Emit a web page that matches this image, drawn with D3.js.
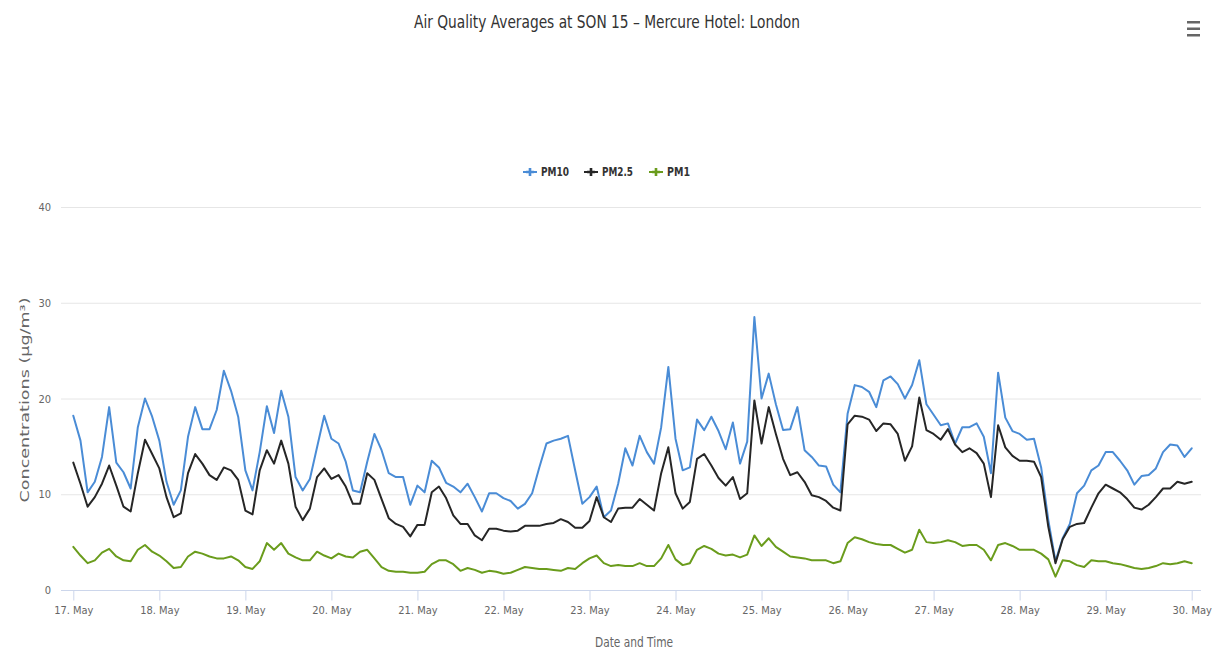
<!DOCTYPE html>
<html>
<head>
<meta charset="utf-8">
<script src="https://cdn.jsdelivr.net/npm/d3@7"></script>
<style>
  html, body { margin: 0; padding: 0; background: #ffffff; }
  svg { display: block; }
</style>
</head>
<body>
<svg id="chart" width="1214" height="653"></svg>
<script>
// ---------------- DATA ----------------
const chartTitle = "Air Quality Averages at SON 15 \u2013 Mercure Hotel: London";
const yAxisTitle = "Concentrations (\u03bcg/m\u00b3)";
const xAxisTitle = "Date and Time";
const seriesNames = ["PM10", "PM2.5", "PM1"];
const startTime = new Date(2021, 4, 17, 0, 0);   // 17 May, 00:00
const stepHours = 2;                              // readings every 2 hours
const yTicks = [0, 10, 20, 30, 40];
const xTickLabels = ["17. May","18. May","19. May","20. May","21. May","22. May","23. May",
                     "24. May","25. May","26. May","27. May","28. May","29. May","30. May"];

const pm10 = [
  18.2,15.6,10.2,11.3,13.9,19.1,13.3,12.3,10.6,17.0,20.0,18.1,15.6,11.3,8.9,10.4,16.0,19.1,16.8,16.8,18.8,22.9,20.8,18.1,12.5,10.4,
  14.4,19.2,16.4,20.8,18.1,11.8,10.4,11.6,14.9,18.2,15.8,15.3,13.4,10.4,10.2,13.4,16.3,14.6,12.2,11.8,11.8,8.9,10.9,10.2,13.5,12.8,
  11.2,10.8,10.2,11.1,9.7,8.2,10.1,10.1,9.6,9.3,8.5,9.0,10.1,12.8,15.3,15.6,15.8,16.1,12.5,9.0,9.7,10.8,7.6,8.3,11.1,14.8,
  13.0,16.1,14.4,13.2,17.0,23.3,15.8,12.5,12.8,17.8,16.7,18.1,16.6,14.7,17.5,13.2,15.5,28.5,20.0,22.6,19.4,16.7,16.8,19.1,14.6,13.9,13.0,
  12.9,11.0,10.2,18.4,21.4,21.2,20.7,19.1,21.9,22.3,21.5,20.0,21.4,24.0,19.4,18.3,17.2,17.4,15.3,17.0,17.0,17.4,16.0,12.2,22.7,18.0,
  16.6,16.3,15.7,15.8,12.8,7.3,3.0,5.4,6.9,10.1,10.9,12.5,13.0,14.4,14.4,13.5,12.5,11.0,11.9,12.0,12.7,14.4,15.2,15.1,13.9,14.8
];
const pm25 = [
  13.3,11.1,8.7,9.7,11.1,13.0,10.9,8.7,8.2,12.2,15.7,14.2,12.7,9.7,7.6,8.0,12.2,14.2,13.2,12.0,11.5,12.8,12.5,11.5,8.3,7.9,
  12.5,14.6,13.2,15.6,13.2,8.7,7.3,8.5,11.8,12.7,11.6,12.0,10.8,9.0,9.0,12.2,11.5,9.5,7.5,6.9,6.6,5.6,6.8,6.8,10.2,10.8,
  9.6,7.8,6.9,6.9,5.7,5.2,6.4,6.4,6.2,6.1,6.2,6.7,6.7,6.7,6.9,7.0,7.4,7.1,6.5,6.5,7.2,9.7,7.6,7.1,8.5,8.6,
  8.6,9.5,8.9,8.3,12.2,14.9,10.1,8.5,9.2,13.7,14.2,13.0,11.7,10.9,11.8,9.5,10.1,19.8,15.3,19.1,16.3,13.7,12.0,12.3,11.3,9.9,9.7,
  9.3,8.6,8.3,17.3,18.2,18.1,17.8,16.6,17.4,17.3,16.3,13.5,15.0,20.1,16.7,16.3,15.7,16.8,15.2,14.4,14.8,14.3,13.2,9.7,17.2,14.9,
  14.0,13.5,13.5,13.4,11.8,6.6,2.8,5.3,6.6,6.9,7.0,8.6,10.1,11.0,10.6,10.2,9.5,8.6,8.4,8.9,9.7,10.6,10.6,11.3,11.1,11.3
];
const pm1 = [
  4.5,3.6,2.8,3.1,3.9,4.3,3.5,3.1,3.0,4.2,4.7,4.0,3.6,3.0,2.3,2.4,3.5,4.0,3.8,3.5,3.3,3.3,3.5,3.1,2.4,2.2,
  3.0,4.9,4.2,4.9,3.8,3.4,3.1,3.1,4.0,3.6,3.3,3.8,3.5,3.4,4.0,4.2,3.3,2.4,2.0,1.9,1.9,1.8,1.8,1.9,2.7,3.1,
  3.1,2.7,2.0,2.3,2.1,1.8,2.0,1.9,1.7,1.8,2.1,2.4,2.3,2.2,2.2,2.1,2.0,2.3,2.2,2.8,3.3,3.6,2.8,2.5,2.6,2.5,
  2.5,2.8,2.5,2.5,3.3,4.7,3.2,2.6,2.8,4.2,4.6,4.3,3.8,3.6,3.7,3.4,3.7,5.7,4.6,5.4,4.5,4.0,3.5,3.4,3.3,3.1,3.1,
  3.1,2.8,3.0,4.9,5.5,5.3,5.0,4.8,4.7,4.7,4.3,3.9,4.2,6.3,5.0,4.9,5.0,5.2,5.0,4.6,4.7,4.7,4.2,3.1,4.7,4.9,
  4.6,4.2,4.2,4.2,3.8,3.2,1.4,3.1,3.0,2.6,2.4,3.1,3.0,3.0,2.8,2.7,2.5,2.3,2.2,2.3,2.5,2.8,2.7,2.8,3.0,2.8
];
const seriesColors = ["#4a8cd6", "#262626", "#6a9c1c"];

// ---------------- LAYOUT ----------------
const svg = d3.select("#chart");
const plot = { left: 61, right: 1201, top: 207, bottom: 590 };
const font = "'Liberation Sans Narrow','DejaVu Sans Condensed','Roboto Condensed','Liberation Sans',sans-serif";

const times = pm10.map((_, i) => d3.timeHour.offset(startTime, i * stepHours));
const tickDates = xTickLabels.map((_, i) => d3.timeDay.offset(startTime, i));

const x = d3.scaleTime()
  .domain([startTime, tickDates[tickDates.length - 1]])
  .range([73.3, 1191.7]);
const y = d3.scaleLinear().domain([0, 40]).range([plot.bottom, plot.top]);

// gridlines
svg.append("g")
  .selectAll("line")
  .data(yTicks)
  .join("line")
  .attr("x1", plot.left).attr("x2", plot.right)
  .attr("y1", d => y(d) + 0.5).attr("y2", d => y(d) + 0.5)
  .attr("stroke", "#e6e6e6").attr("stroke-width", 1);

// y axis labels
const yAxis = svg.append("g")
  .attr("transform", `translate(${plot.left - 10},0)`)
  .call(d3.axisLeft(y).tickValues(yTicks).tickSize(0).tickPadding(0));
yAxis.select(".domain").remove();
yAxis.selectAll("text")
  .attr("font-family", font).attr("font-size", 11).attr("fill", "#666")
  .attr("dy", "0.32em");

// x axis
const xAxis = svg.append("g")
  .attr("transform", `translate(0,${plot.bottom + 0.5})`)
  .call(d3.axisBottom(x).tickValues(tickDates)
    .tickFormat((d, i) => xTickLabels[i]).tickSize(10).tickPadding(6));
xAxis.select(".domain").attr("d", `M${plot.left},0H${plot.right}`).attr("stroke", "#ccd6eb");
xAxis.selectAll(".tick line").attr("stroke", "#ccd6eb");
xAxis.selectAll("text")
  .attr("font-family", font).attr("font-size", 11).attr("fill", "#666");

// lines
const allSeries = [pm10, pm25, pm1];
const lineGen = d3.line()
  .x((d, i) => x(times[i]))
  .y(d => y(d));
svg.append("g")
  .selectAll("path")
  .data(allSeries)
  .join("path")
  .attr("d", d => lineGen(d))
  .attr("fill", "none")
  .attr("stroke", (d, i) => seriesColors[i])
  .attr("stroke-width", 2)
  .attr("stroke-linejoin", "round")
  .attr("stroke-linecap", "round");

// title
svg.append("text")
  .attr("x", 607).attr("y", 28)
  .attr("text-anchor", "middle")
  .attr("font-family", font).attr("font-size", 18).attr("fill", "#333")
  .attr("textLength", 386).attr("lengthAdjust", "spacingAndGlyphs")
  .text(chartTitle);

// axis titles
svg.append("text")
  .attr("transform", "translate(29,400) rotate(-90)")
  .attr("text-anchor", "middle")
  .attr("font-family", "'DejaVu Sans','Open Sans',sans-serif").attr("font-size", 13).attr("fill", "#666")
  .attr("textLength", 205).attr("lengthAdjust", "spacingAndGlyphs")
  .text(yAxisTitle);
svg.append("text")
  .attr("x", 634).attr("y", 647)
  .attr("text-anchor", "middle")
  .attr("font-family", font).attr("font-size", 14).attr("fill", "#666")
  .attr("textLength", 78).attr("lengthAdjust", "spacingAndGlyphs")
  .text(xAxisTitle);

// legend
const legendX = [523, 584, 649];
const legendTextLen = [28, 31, 23];
const legend = svg.append("g").selectAll("g")
  .data(seriesNames)
  .join("g")
  .attr("transform", (d, i) => `translate(${legendX[i]},172)`);
legend.append("line")
  .attr("x1", 0).attr("x2", 14).attr("y1", 0).attr("y2", 0)
  .attr("stroke", (d, i) => seriesColors[i]).attr("stroke-width", 2);
legend.append("path")
  .attr("d", d3.symbol(d3.symbolCross, 34)())
  .attr("transform", "translate(7,0)")
  .attr("fill", (d, i) => seriesColors[i]);
legend.append("text")
  .attr("x", 18).attr("y", 0).attr("dy", "0.35em")
  .attr("font-family", font).attr("font-size", 12).attr("font-weight", "bold").attr("fill", "#333")
  .attr("textLength", (d, i) => legendTextLen[i]).attr("lengthAdjust", "spacingAndGlyphs")
  .text(d => d);

// menu (hamburger) icon
svg.append("g").selectAll("rect")
  .data([0, 1, 2])
  .join("rect")
  .attr("x", 1187).attr("y", d => 21 + d * 6.5)
  .attr("width", 13).attr("height", 2.5)
  .attr("fill", "#666");
</script>
</body>
</html>
